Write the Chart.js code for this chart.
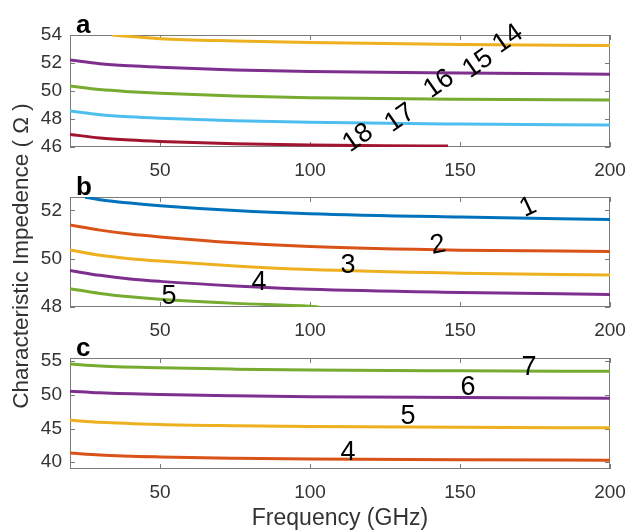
<!DOCTYPE html>
<html>
<head>
<meta charset="utf-8">
<script src="https://cdn.jsdelivr.net/npm/chart.js@4"></script>
<style>
  html, body { margin: 0; padding: 0; background: #fff; }
  #wrap { position: relative; width: 628px; height: 532px; }
  #wrap canvas { position: absolute; left: 0; top: 0; }
</style>
</head>
<body>
<div id="wrap">
  <canvas id="chartA" width="628" height="532"></canvas>
  <canvas id="chartB" width="628" height="532"></canvas>
  <canvas id="chartC" width="628" height="532"></canvas>
</div>
<script>
const FONT = '"Liberation Sans", Arial, sans-serif';
const TEXT = '#333';

const freqTicks = [50, 100, 150, 200];

// panel a
const freqA = [20, 30, 40, 50, 75, 100, 150, 200];
const freqA14 = [34, 50, 75, 100, 150, 200];
const freqA18 = [20, 30, 40, 50, 75, 100, 125, 146];
const zA14 = [54.0, 53.74, 53.57, 53.46, 53.33, 53.25];
const zA15 = [52.21, 51.95, 51.8, 51.7, 51.5, 51.39, 51.28, 51.2];
const zA16 = [50.36, 50.1, 49.95, 49.84, 49.64, 49.52, 49.41, 49.36];
const zA17 = [48.57, 48.31, 48.16, 48.06, 47.88, 47.76, 47.64, 47.57];
const zA18 = [46.9, 46.65, 46.5, 46.4, 46.23, 46.14, 46.09, 46.07];
const ticksA = [46, 48, 50, 52, 54];
const namesA = ['14', '15', '16', '17', '18'];
const labelXA = [166, 156, 143, 130, 116];
const labelYA = [53.72, 51.93, 50.5, 48.07, 46.64];

// panel b
const freqB = [20, 30, 40, 50, 75, 100, 150, 200];
const freqB1 = [25, 30, 40, 50, 75, 100, 150, 200];
const freqB5 = [20, 30, 40, 50, 75, 100, 103];
const zB1 = [52.54, 52.44, 52.3, 52.19, 51.99, 51.86, 51.72, 51.62];
const zB2 = [51.39, 51.18, 51.02, 50.9, 50.66, 50.5, 50.35, 50.3];
const zB3 = [50.36, 50.14, 50.0, 49.9, 49.7, 49.55, 49.4, 49.32];
const zB4 = [49.51, 49.31, 49.16, 49.06, 48.87, 48.73, 48.6, 48.52];
const zB5 = [48.76, 48.56, 48.42, 48.32, 48.15, 48.03, 48.0];
const ticksB = [48, 50, 52];
const namesB = ['1', '2', '3', '4', '5'];
const labelXB = [172.7, 142.7, 112.7, 83, 53];
const labelYB = [52.12, 50.56, 49.73, 49.03, 48.45];

// panel c
const freqC = [20, 30, 50, 75, 100, 150, 200];
const zC7 = [54.55, 54.28, 54.0, 53.8, 53.67, 53.55, 53.47];
const zC6 = [50.54, 50.3, 50.04, 49.85, 49.72, 49.6, 49.5];
const zC5 = [46.24, 45.92, 45.6, 45.42, 45.3, 45.17, 45.1];
const zC4 = [41.38, 41.08, 40.79, 40.6, 40.49, 40.37, 40.3];
const ticksC = [40, 45, 50, 55];
const namesC = ['7', '6', '5', '4'];
const labelXC = [173, 152.7, 132.7, 112.7];
const labelYC = [54.1, 51.0, 46.83, 41.5];

const BLUE = '#0072BD', ORANGE = '#D95319', YELLOW = '#EDB120', PURPLE = '#7E2F8E',
      GREEN = '#77AC30', CYAN = '#4DBEEE', RED = '#A2142F';

function pts(xs, ys) {
  return xs.map((x, i) => ({ x: x, y: ys[i] }));
}

const deco = {
  id: 'deco',
  beforeDatasetsDraw(chart, args, opts) {
    const ctx = chart.ctx;
    const a = chart.chartArea;
    const sx = chart.scales.x, sy = chart.scales.y;
    ctx.save();
    ctx.strokeStyle = '#7a7a7a';
    ctx.lineWidth = 1;
    ctx.strokeRect(a.left + 0.5, a.top + 0.5, a.right - a.left - 1, a.bottom - a.top - 1);
    ctx.beginPath();
    sx.ticks.forEach(t => {
      const px = Math.round(sx.getPixelForValue(t.value)) + 0.5;
      ctx.moveTo(px, a.bottom); ctx.lineTo(px, a.bottom - 5);
      ctx.moveTo(px, a.top); ctx.lineTo(px, a.top + 5);
    });
    sy.ticks.forEach(t => {
      const py = Math.round(sy.getPixelForValue(t.value)) + 0.5;
      ctx.moveTo(a.left, py); ctx.lineTo(a.left + 5, py);
      ctx.moveTo(a.right, py); ctx.lineTo(a.right - 5, py);
    });
    ctx.stroke();
    ctx.restore();
  },
  afterDatasetsDraw(chart, args, opts) {
    const ctx = chart.ctx;
    const a = chart.chartArea;
    const sx = chart.scales.x, sy = chart.scales.y;
    ctx.save();
    ctx.fillStyle = '#000';
    ctx.font = 'bold 26px ' + FONT;
    ctx.textAlign = 'left';
    ctx.textBaseline = 'alphabetic';
    ctx.fillText(opts.letter, a.left + 6, a.top - 2);

    ctx.font = '27px ' + FONT;
    ctx.textAlign = 'center';
    ctx.textBaseline = 'middle';
    opts.names.forEach((n, i) => {
      ctx.save();
      ctx.translate(sx.getPixelForValue(opts.lx[i]), sy.getPixelForValue(opts.ly[i]));
      ctx.rotate((opts.rot[i] || 0) * Math.PI / 180);
      ctx.fillText(n, 0, 0);
      ctx.restore();
    });

    if (opts.yTitle) {
      ctx.save();
      ctx.fillStyle = TEXT;
      ctx.font = '22.5px ' + FONT;
      ctx.translate(22, 256);
      ctx.rotate(-Math.PI / 2);
      ctx.fillText(opts.yTitle, 0, 0);
      ctx.restore();
    }
    ctx.restore();
  }
};

function makePanel(id, cfg) {
  return new Chart(document.getElementById(id), {
    type: 'line',
    data: {
      datasets: cfg.series.map(s => ({
        data: pts(s.x, s.y),
        borderColor: s.color,
        borderWidth: 3,
        pointRadius: 0,
        cubicInterpolationMode: 'monotone',
        fill: false
      }))
    },
    options: {
      responsive: false,
      animation: false,
      events: [],
      layout: { padding: { top: cfg.top, bottom: cfg.padBottom, left: 0, right: 18 } },
      plugins: {
        legend: { display: false },
        tooltip: { enabled: false },
        deco: cfg.deco
      },
      scales: {
        x: {
          type: 'linear', min: 20, max: 200,
          grid: { display: false, drawTicks: false },
          border: { display: false },
          afterBuildTicks: ax => { ax.ticks = freqTicks.map(v => ({ value: v })); },
          afterFit: ax => { ax.height = cfg.xHeight; ax.paddingLeft = 0; ax.paddingRight = 0; },
          ticks: { font: { family: FONT, size: 19 }, color: TEXT, padding: 12, maxRotation: 0, autoSkip: false },
          title: cfg.xTitle
            ? { display: true, text: cfg.xTitle, color: TEXT, font: { family: FONT, size: 23 }, padding: { top: 0, bottom: 0 } }
            : { display: false }
        },
        y: {
          type: 'linear', min: cfg.ymin, max: cfg.ymax,
          grid: { display: false, drawTicks: false },
          border: { display: false },
          afterBuildTicks: ax => { ax.ticks = cfg.yticks.map(v => ({ value: v })); },
          afterFit: ax => { ax.width = 70; ax.paddingTop = 0; ax.paddingBottom = 0; },
          ticks: { font: { family: FONT, size: 19 }, color: TEXT, padding: 8 }
        }
      }
    },
    plugins: [deco]
  });
}

makePanel('chartA', {
  top: 35, padBottom: 532 - 147 - 40, xHeight: 40,
  ymin: 46, ymax: 54, yticks: ticksA,
  series: [
    { x: freqA14, y: zA14, color: YELLOW },
    { x: freqA, y: zA15, color: PURPLE },
    { x: freqA, y: zA16, color: GREEN },
    { x: freqA, y: zA17, color: CYAN },
    { x: freqA18, y: zA18, color: RED }
  ],
  deco: { letter: 'a', names: namesA, lx: labelXA, ly: labelYA, rot: [-35, -35, -35, -35, -35] }
});

makePanel('chartB', {
  top: 197, padBottom: 532 - 307 - 40, xHeight: 40,
  ymin: 48, ymax: 52.55, yticks: ticksB,
  series: [
    { x: freqB1, y: zB1, color: BLUE },
    { x: freqB, y: zB2, color: ORANGE },
    { x: freqB, y: zB3, color: YELLOW },
    { x: freqB, y: zB4, color: PURPLE },
    { x: freqB5, y: zB5, color: GREEN }
  ],
  deco: { letter: 'b', names: namesB, lx: labelXB, ly: labelYB, rot: [-25, -12, 0, 0, 0],
          yTitle: 'Characteristic Impedence ( \u03A9 )' }
});

makePanel('chartC', {
  top: 358, padBottom: 0, xHeight: 532 - 469, xTitle: 'Frequency (GHz)',
  ymin: 39, ymax: 55.45, yticks: ticksC,
  series: [
    { x: freqC, y: zC7, color: GREEN },
    { x: freqC, y: zC6, color: PURPLE },
    { x: freqC, y: zC5, color: YELLOW },
    { x: freqC, y: zC4, color: ORANGE }
  ],
  deco: { letter: 'c', names: namesC, lx: labelXC, ly: labelYC, rot: [0, 0, 0, 0] }
});
</script>
</body>
</html>
